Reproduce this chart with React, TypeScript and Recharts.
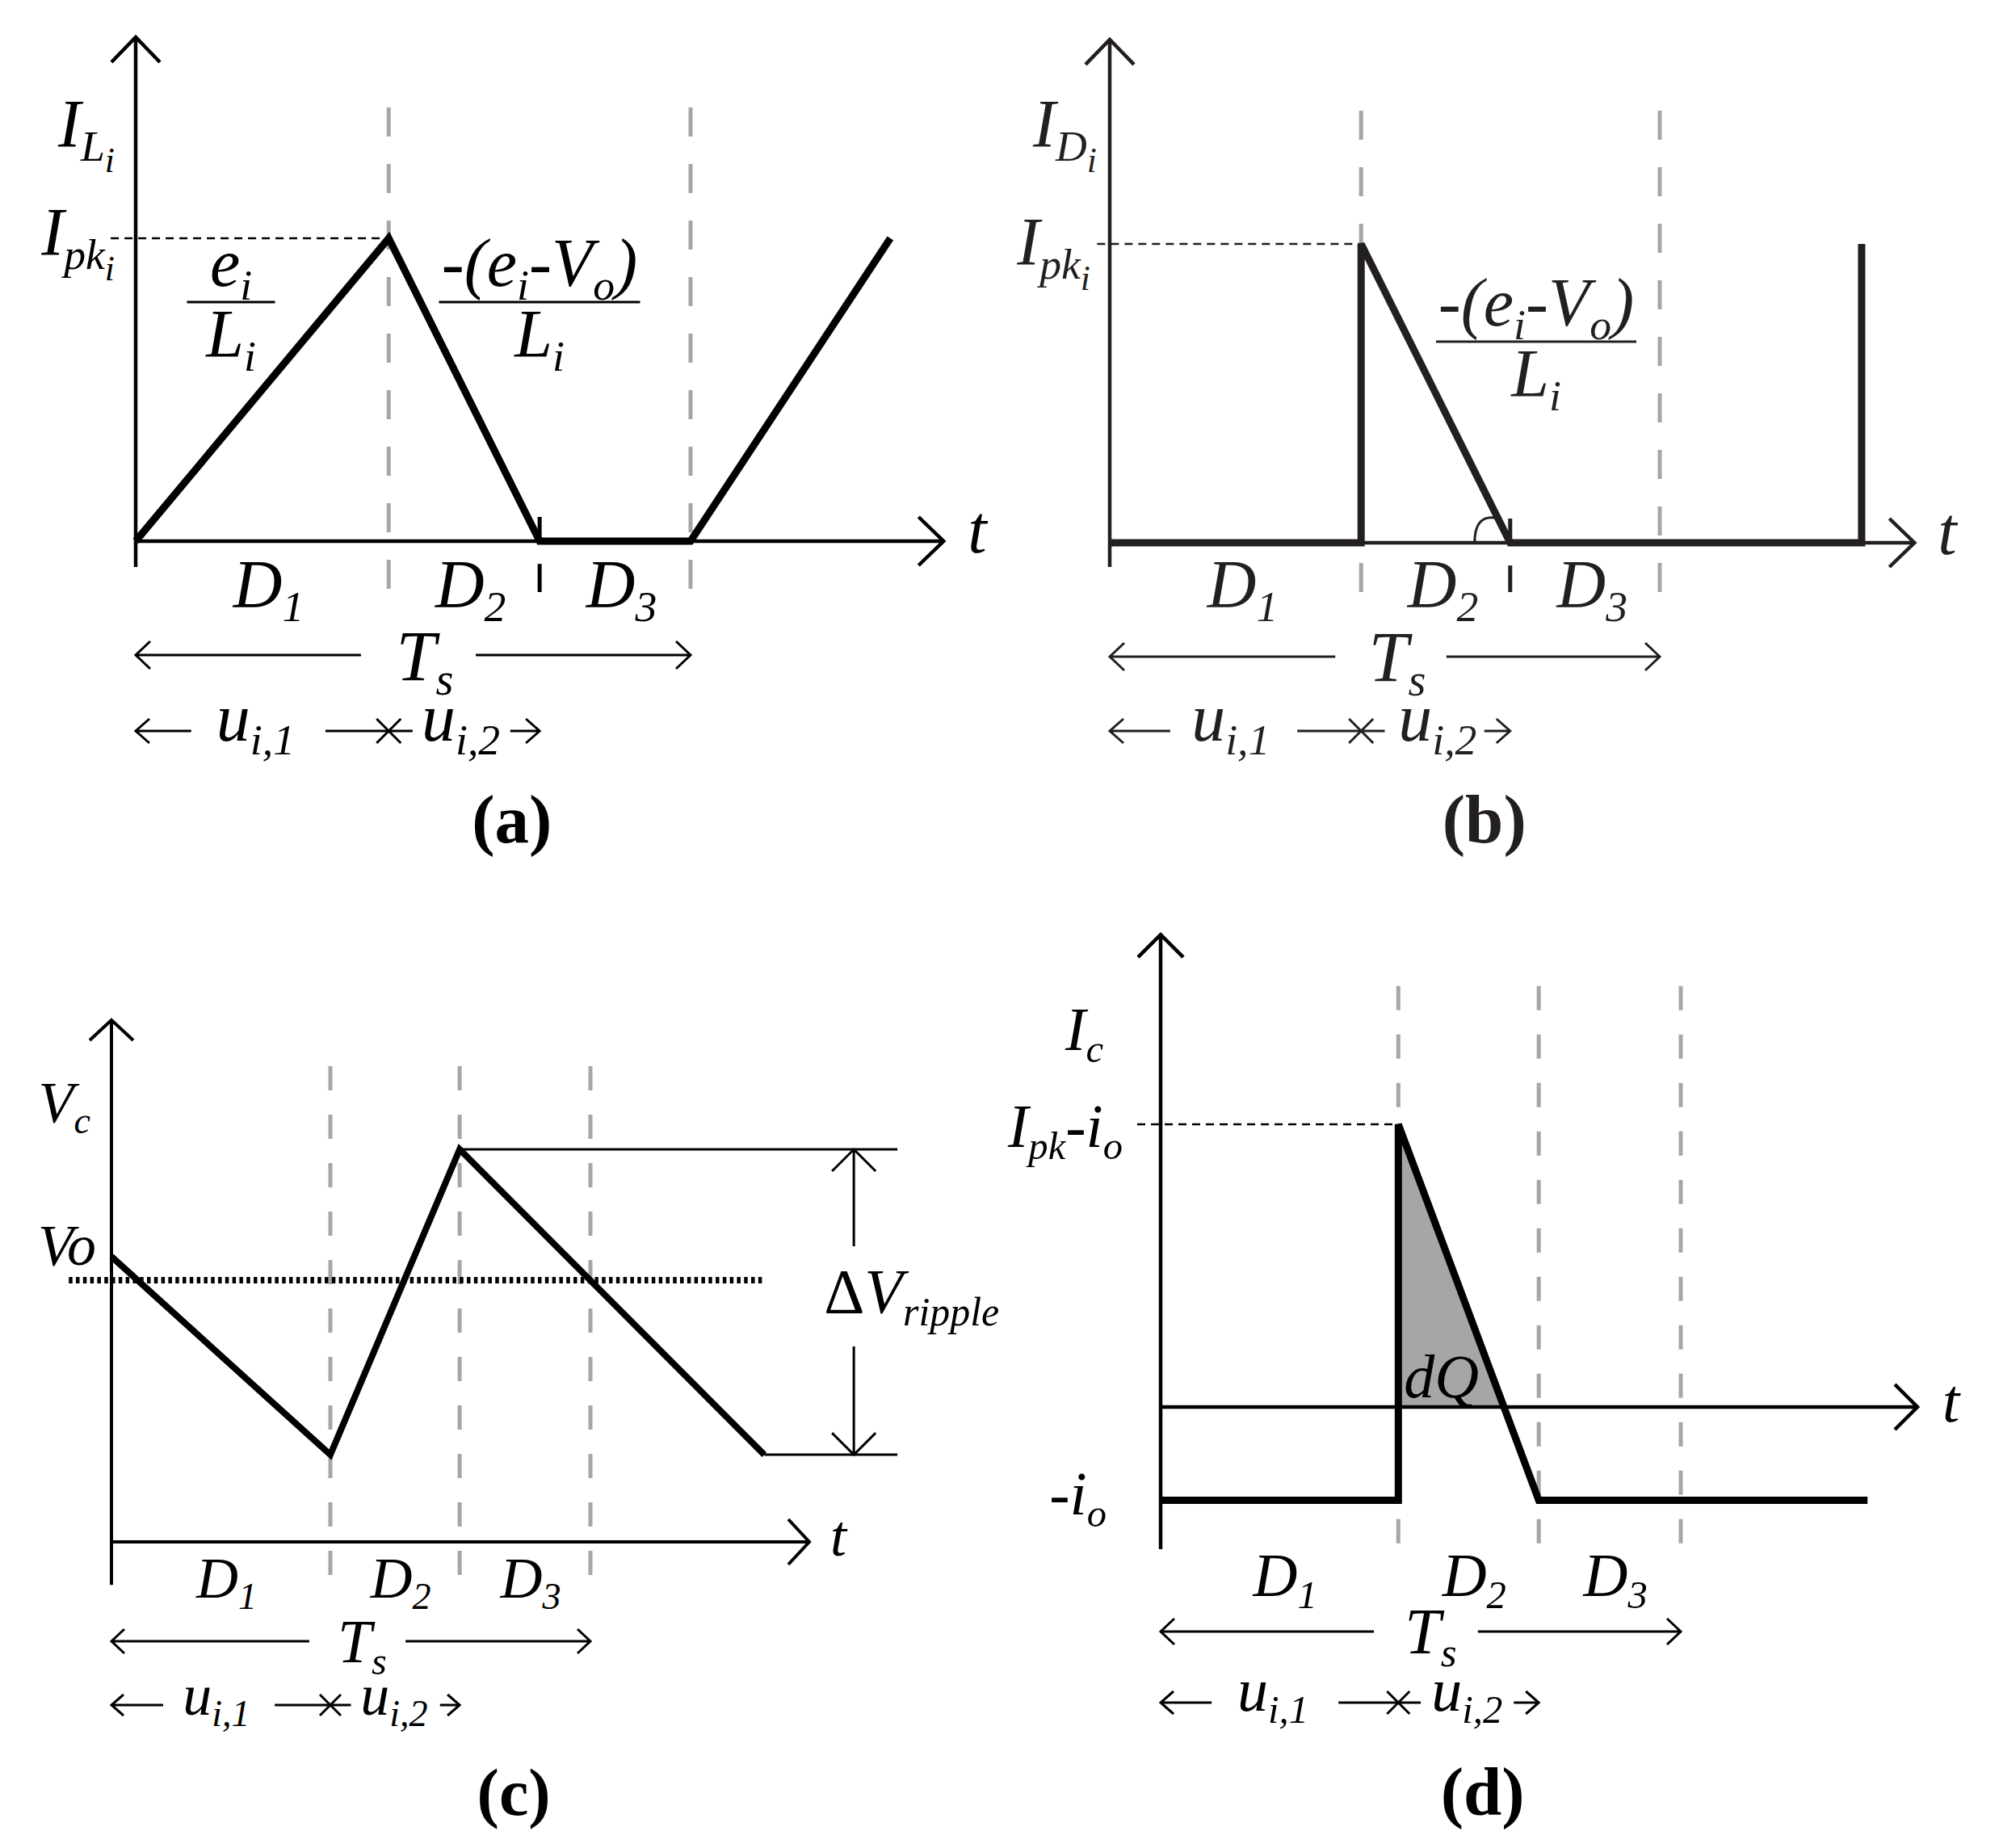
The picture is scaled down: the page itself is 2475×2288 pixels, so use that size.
import React from 'react';
import { ComposedChart, Line, Area, XAxis, YAxis, ReferenceLine, ReferenceDot } from 'recharts';

const FONT = '"Liberation Serif", "DejaVu Serif", serif';
const INK = '#000';
const INK_B = '#231f20';
const GRID = '#a6a6a6';
const SHADE = '#a6a6a6';

// time is in units of Ts, edges = [0, D1, D1+D2, Ts]
// (a) inductor current, in units of Ipk
const aEdges = [0, 0.456, 0.728, 1];
const aTime = [0, 0.456, 0.728, 1, 1.36];
const aCurrent = [0, 1, 0, 0, 1];

// (b) diode current, in units of Ipk
const bEdges = [0, 0.457, 0.728, 1];
const bTime = [0, 0.457, 0.457, 0.728, 1.367, 1.367];
const bCurrent = [0, 0, 1, 0, 0, 1];

// (c) capacitor voltage, in units of Vo
const cEdges = [0, 0.457, 0.727, 1];
const cTime = [0, 0.457, 0.727, 1.363];
const cVoltage = [1.09, 0.333, 1.5, 0.333];
const cVo = 1;
const cRippleTop = 1.5;
const cRippleBottom = 0.333;

// (d) capacitor current, in units of Ipk - io
const dEdges = [0, 0.457, 0.727, 1];
const dTime = [0, 0.457, 0.457, 0.727, 1.359];
const dCurrent = [-0.33, -0.33, 1, -0.33, -0.33];
const dqTime = [0.457, 0.655];
const dqCurrent = [1, 0];

const intervalNames = ['1', '2', '3'];

const zip = (t: number[], v: number[]) => t.map((x, i) => ({ t: x, v: v[i] }));

type Frame = { left: number; top: number; w: number; h: number; ox: number; oy: number; sx: number; sy: number };

// page position of each panel, its data origin and pixels per unit
const FA: Frame = { left: 0, top: 0, w: 1237, h: 1100, ox: 168, oy: 670, sx: 687, sy: 375 };
const FB: Frame = { left: 1237, top: 0, w: 1238, h: 1100, ox: 1374, oy: 672, sx: 681, sy: 370 };
const FC: Frame = { left: 0, top: 1100, w: 1237, h: 1188, ox: 138, oy: 1909, sx: 593, sy: 324 };
const FD: Frame = { left: 1237, top: 1100, w: 1238, h: 1188, ox: 1437, oy: 1742, sx: 644, sy: 350 };

type Part = [string, number?, boolean?]; // text, level (0 base, 1 sub, 2 subsub), upright
const SUB = [1, 0.64, 0.52];
const SHIFT = [0, 0.2, 0.37];

type TextOpts = {
  size: number;
  dx?: number;
  dy?: number;
  anchor?: 'start' | 'middle' | 'end';
  bold?: boolean;
  upright?: boolean;
  color?: string;
};

const richText = (parts: Part[], o: TextOpts, x: number, y: number) => {
  let prev = 0;
  return (
    <text
      x={x + (o.dx ?? 0)}
      y={y + (o.dy ?? 0)}
      fontSize={o.size}
      fontFamily={FONT}
      textAnchor={o.anchor ?? 'middle'}
      fontWeight={o.bold ? 'bold' : 'normal'}
      fontStyle={o.upright ? 'normal' : 'italic'}
      fill={o.color ?? INK}
    >
      {parts.map(([s, lv = 0, up], i) => {
        const dy = (SHIFT[lv] - SHIFT[prev]) * o.size;
        prev = lv;
        return (
          <tspan key={i} dy={dy} fontSize={o.size * SUB[lv]} fontStyle={up ? 'normal' : undefined}>
            {s}
          </tspan>
        );
      })}
    </text>
  );
};

const textShape = (parts: Part[], o: TextOpts) => (p: any) => richText(parts, o, p.cx, p.cy);

const fractionShape =
  (num: Part[], den: Part[], o: { size: number; dx: number; dy: number; width: number; color?: string }) =>
  (p: any) => {
    const cx = p.cx + o.dx;
    const cy = p.cy + o.dy;
    const color = o.color ?? INK;
    return (
      <g>
        {richText(num, { size: o.size, dy: -20, color }, cx, cy)}
        <line x1={cx - o.width / 2} x2={cx + o.width / 2} y1={cy} y2={cy} stroke={color} strokeWidth={3} />
        {richText(den, { size: o.size, dy: 68, color }, cx, cy)}
      </g>
    );
  };

type LineStyle = {
  w: number;
  color?: string;
  dash?: string;
  dy?: number;
  start?: [number, number];
  end?: [number, number];
};

const lineShape = (s: LineStyle) => (p: any) => {
  const dy = s.dy ?? 0;
  const x1 = +p.x1;
  const y1 = +p.y1 + dy;
  const x2 = +p.x2;
  const y2 = +p.y2 + dy;
  const a = Math.atan2(y2 - y1, x2 - x1);
  const head = (x: number, y: number, ang: number, [len, half]: [number, number]) => {
    const bx = x - len * Math.cos(ang);
    const by = y - len * Math.sin(ang);
    const nx = -Math.sin(ang) * half;
    const ny = Math.cos(ang) * half;
    return `M${bx + nx},${by + ny}L${x},${y}L${bx - nx},${by - ny}`;
  };
  let d = `M${x1},${y1}L${x2},${y2}`;
  if (s.end) d += head(x2, y2, a, s.end);
  if (s.start) d += head(x1, y1, a + Math.PI, s.start);
  return <path d={d} fill="none" stroke={s.color ?? INK} strokeWidth={s.w} strokeDasharray={s.dash} />;
};

const crossShape = (dy: number, half: number, color: string) => (p: any) => {
  const x = p.cx;
  const y = p.cy + dy;
  return (
    <path
      d={`M${x - half},${y - half}L${x + half},${y + half}M${x - half},${y + half}L${x + half},${y - half}`}
      stroke={color}
      strokeWidth={3}
      fill="none"
    />
  );
};

const arcShape = (color: string) => (p: any) => {
  const x = p.cx;
  const y = p.cy;
  return <path d={`M${x - 44},${y}C${x - 44},${y - 38} ${x - 20},${y - 32} ${x - 12},${y - 29}`} stroke={color} strokeWidth={3} fill="none" />;
};

const seg = (key: string, p1: number[], p2: number[], shape: any) => (
  <ReferenceLine
    key={key}
    segment={[
      { x: p1[0], y: p1[1] },
      { x: p2[0], y: p2[1] },
    ]}
    ifOverflow="visible"
    shape={shape}
  />
);

const dot = (key: string, x: number, y: number, shape: any) => (
  <ReferenceDot key={key} x={x} y={y} r={0} ifOverflow="visible" shape={shape} />
);

type Rows = {
  edges: number[];
  size: number;
  color: string;
  dD: number;
  dDx: number;
  ts: number;
  tsGap: [number, number];
  tsText: number;
  tsDx: number;
  u: number;
  uText: number;
  uLeft: number;
  u1: number;
  uMid: [number, number];
  u2: number;
  uRight: number;
  head: [number, number];
  small: [number, number];
  cap: string;
  capX: number;
  capDy: number;
  capSize: number;
};

// D labels, the Ts arrow, the u arrows and the caption under the axis
function bottomRows(k: string, r: Rows) {
  const e = r.edges;
  const c = r.color;
  const out: React.ReactNode[] = [];
  for (let i = 0; i < 3; i++) {
    out.push(
      dot(`${k}D${i}`, (e[i] + e[i + 1]) / 2, 0, textShape([['D'], [intervalNames[i], 1]], { size: r.size, dx: r.dDx, dy: r.dD, color: c }))
    );
  }
  out.push(seg(`${k}ts1`, [0, 0], [r.tsGap[0], 0], lineShape({ w: 3, dy: r.ts, start: r.head, color: c })));
  out.push(seg(`${k}ts2`, [r.tsGap[1], 0], [e[3], 0], lineShape({ w: 3, dy: r.ts, end: r.head, color: c })));
  out.push(
    dot(`${k}tsT`, (r.tsGap[0] + r.tsGap[1]) / 2, 0, textShape([['T'], ['s', 1]], { size: r.size * 1.05, dx: r.tsDx, dy: r.tsText, color: c }))
  );
  out.push(seg(`${k}u1`, [0, 0], [r.uLeft, 0], lineShape({ w: 3, dy: r.u, start: r.small, color: c })));
  out.push(dot(`${k}u1t`, r.u1, 0, textShape([['u'], ['i,1', 1]], { size: r.size, dy: r.uText, color: c })));
  out.push(seg(`${k}um`, [r.uMid[0], 0], [r.uMid[1], 0], lineShape({ w: 3, dy: r.u, color: c })));
  out.push(dot(`${k}ux`, e[1], 0, crossShape(r.u, r.small[1], c)));
  out.push(dot(`${k}u2t`, r.u2, 0, textShape([['u'], ['i,2', 1]], { size: r.size, dy: r.uText, color: c })));
  out.push(seg(`${k}u2`, [r.uRight, 0], [e[2], 0], lineShape({ w: 3, dy: r.u, end: r.small, color: c })));
  out.push(
    dot(`${k}cap`, r.capX, 0, textShape([['('], [r.cap], [')']], { size: r.capSize, dy: r.capDy, bold: true, upright: true, color: c }))
  );
  return out;
}

const wave = (key: string, data: { t: number; v: number }[], w: number, color: string) => (
  <Line
    key={key}
    data={data}
    dataKey="v"
    type="linear"
    stroke={color}
    strokeWidth={w}
    dot={false}
    activeDot={false}
    legendType="none"
    isAnimationActive={false}
  />
);

function Chart({ f, children }: { f: Frame; children: React.ReactNode }) {
  const xd = [(f.left - f.ox) / f.sx, (f.left + f.w - f.ox) / f.sx];
  const yd = [(f.oy - f.top - f.h) / f.sy, (f.oy - f.top) / f.sy];
  return (
    <div style={{ position: 'absolute', left: f.left, top: f.top, width: f.w, height: f.h }}>
      <ComposedChart width={f.w} height={f.h} margin={{ top: 0, right: 0, bottom: 0, left: 0 }}>
        <XAxis type="number" dataKey="t" domain={xd} hide allowDataOverflow />
        <YAxis type="number" dataKey="v" domain={yd} hide allowDataOverflow />
        {children}
      </ComposedChart>
    </div>
  );
}

function PanelA() {
  const e = aEdges;
  const s = 84;
  const items = [
    ...[e[1], e[3]].map((x) => seg(`g${x}`, [x, 1.432], [x, -0.168], lineShape({ w: 5, color: GRID, dash: '36 34' }))),
    seg('yax', [0, -0.085], [0, 1.664], lineShape({ w: 4.5, end: [31, 30] })),
    seg('xax', [0, 0], [1.456, 0], lineShape({ w: 4.5, end: [31, 30] })),
    seg('pk', [-0.045, 1], [e[1], 1], lineShape({ w: 2.5, dash: '10 7' })),
    seg('tk1', [e[2], 0.08], [e[2], 0], lineShape({ w: 5 })),
    seg('tk2', [e[2], -0.075], [e[2], -0.168], lineShape({ w: 5 })),
    wave('w', zip(aTime, aCurrent), 9, INK),
    dot('lI', 0, 1, textShape([['I'], ['L', 1], ['i', 2]], { size: s, dx: -26, dy: -113, anchor: 'end' })),
    dot('lpk', 0, 1, textShape([['I'], ['pk', 1], ['i', 2]], { size: s, dx: -26, dy: 21, anchor: 'end' })),
    dot('f1', 0, 1, fractionShape([['e'], ['i', 1]], [['L'], ['i', 1]], { size: s, dx: 118, dy: 79, width: 109 })),
    dot(
      'f2',
      0,
      1,
      fractionShape([['-(e'], ['i', 1], ['-V'], ['o', 1], [')']], [['L'], ['i', 1]], { size: s, dx: 500, dy: 79, width: 249 })
    ),
    dot('lt', 1.456, 0, textShape([['t']], { size: s, dx: 30, dy: 14, anchor: 'start' })),
    ...bottomRows('a', {
      edges: e,
      size: s,
      color: INK,
      dD: 82,
      dDx: 8,
      ts: 141,
      tsGap: [0.406, 0.613],
      tsText: 172,
      tsDx: 8,
      u: 235,
      uText: 247,
      uLeft: 0.1,
      u1: 0.216,
      uMid: [0.342, 0.499],
      u2: 0.586,
      uRight: 0.675,
      head: [18, 17],
      small: [17, 15],
      cap: 'a',
      capX: 0.678,
      capDy: 373,
      capSize: 85,
    }),
  ];
  return <Chart f={FA}>{items}</Chart>;
}

function PanelB() {
  const e = bEdges;
  const s = 84;
  const items = [
    ...[e[1], e[3]].map((x) => seg(`g${x}`, [x, 1.446], [x, -0.165], lineShape({ w: 5, color: GRID, dash: '36 34' }))),
    seg('yax', [0, -0.081], [0, 1.684], lineShape({ w: 4.5, end: [31, 30], color: INK_B })),
    seg('xax', [0, 0], [1.463, 0], lineShape({ w: 4.5, end: [31, 30], color: INK_B })),
    seg('pk', [-0.023, 1], [e[1], 1], lineShape({ w: 2.5, dash: '10 7', color: INK_B })),
    seg('tk1', [e[2], 0.081], [e[2], 0], lineShape({ w: 5, color: INK_B })),
    seg('tk2', [e[2], -0.076], [e[2], -0.165], lineShape({ w: 5, color: INK_B })),
    dot('arc', e[2], 0, arcShape(INK_B)),
    wave('w', zip(bTime, bCurrent), 9, INK_B),
    dot('lI', 0, 1, textShape([['I'], ['D', 1], ['i', 2]], { size: s, dx: -16, dy: -120, anchor: 'end', color: INK_B })),
    dot('lpk', 0, 1, textShape([['I'], ['pk', 1], ['i', 2]], { size: s, dx: -24, dy: 26, anchor: 'end', color: INK_B })),
    dot(
      'f2',
      0,
      1,
      fractionShape([['-(e'], ['i', 1], ['-V'], ['o', 1], [')']], [['L'], ['i', 1]], {
        size: s,
        dx: 528,
        dy: 121,
        width: 248,
        color: INK_B,
      })
    ),
    dot('lt', 1.463, 0, textShape([['t']], { size: s, dx: 29, dy: 14, anchor: 'start', color: INK_B })),
    ...bottomRows('b', {
      edges: e,
      size: s,
      color: INK_B,
      dD: 80,
      dDx: 9,
      ts: 141,
      tsGap: [0.41, 0.612],
      tsText: 171,
      tsDx: 8,
      u: 233,
      uText: 245,
      uLeft: 0.11,
      u1: 0.22,
      uMid: [0.341, 0.5],
      u2: 0.596,
      uRight: 0.681,
      head: [18, 17],
      small: [17, 15],
      cap: 'b',
      capX: 0.681,
      capDy: 371,
      capSize: 85,
    }),
  ];
  return <Chart f={FB}>{items}</Chart>;
}

function PanelC() {
  const e = cEdges;
  const s = 72;
  const items = [
    ...[e[1], e[2], e[3]].map((x) => seg(`g${x}`, [x, 1.818], [x, -0.17], lineShape({ w: 5, color: GRID, dash: '30 30' }))),
    seg('yax', [0, -0.164], [0, 1.994], lineShape({ w: 4, end: [25, 27] })),
    seg('xax', [0, 0], [1.457, 0], lineShape({ w: 4, end: [26, 28] })),
    seg('vo', [-0.089, cVo], [1.361, cVo], lineShape({ w: 8, dash: '4.5 4.3' })),
    seg('rt', [e[2], cRippleTop], [1.641, cRippleTop], lineShape({ w: 3 })),
    seg('rb', [1.363, cRippleBottom], [1.641, cRippleBottom], lineShape({ w: 3 })),
    seg('ra1', [1.55, 1.13], [1.55, cRippleTop], lineShape({ w: 3, end: [27, 27] })),
    seg('ra2', [1.55, 0.747], [1.55, cRippleBottom], lineShape({ w: 3, end: [27, 27] })),
    wave('w', zip(cTime, cVoltage), 8, INK),
    dot('lV', 0, cVo, textShape([['V'], ['c', 1]], { size: s, dx: -26, dy: -196, anchor: 'end' })),
    dot('lVo', 0, cVo, textShape([['Vo']], { size: s, dx: -19, dy: -19, anchor: 'end' })),
    dot('lt', 1.457, 0, textShape([['t']], { size: s, dx: 26, dy: 17, anchor: 'start' })),
    dot(
      'lr',
      1.55,
      (cRippleTop + cRippleBottom) / 2,
      textShape([['Δ', 0, true], ['V'], ['ripple', 1]], { size: 78, dx: -37, dy: 13, anchor: 'start' })
    ),
    ...bottomRows('c', {
      edges: e,
      size: s,
      color: INK,
      dD: 69,
      dDx: 7,
      ts: 123,
      tsGap: [0.413, 0.614],
      tsText: 149,
      tsDx: 6,
      u: 202,
      uText: 214,
      uLeft: 0.108,
      u1: 0.219,
      uMid: [0.341, 0.5],
      u2: 0.59,
      uRight: 0.686,
      head: [16, 15],
      small: [15, 13],
      cap: 'c',
      capX: 0.84,
      capDy: 338,
      capSize: 82,
    }),
  ];
  return <Chart f={FC}>{items}</Chart>;
}

function PanelD() {
  const e = dEdges;
  const s = 76;
  const items = [
    ...[e[1], e[2], e[3]].map((x) => seg(`g${x}`, [x, 1.489], [x, -0.503], lineShape({ w: 5, color: GRID, dash: '30 30' }))),
    <Area
      key="dq"
      data={zip(dqTime, dqCurrent)}
      dataKey="v"
      type="linear"
      baseValue={0}
      fill={SHADE}
      fillOpacity={1}
      stroke="none"
      legendType="none"
      isAnimationActive={false}
    />,
    seg('yax', [0, -0.503], [0, 1.671], lineShape({ w: 4.5, end: [28, 28] })),
    seg('xax', [0, 0], [1.455, 0], lineShape({ w: 4.5, end: [28, 28] })),
    seg('pk', [-0.045, 1], [e[1], 1], lineShape({ w: 2.5, dash: '10 7' })),
    wave('w', zip(dTime, dCurrent), 9, INK),
    dot('lI', 0, 1, textShape([['I'], ['c', 1]], { size: s, dx: -71, dy: -92, anchor: 'end' })),
    dot('lpk', 0, 1, textShape([['I'], ['pk', 1], ['-i'], ['o', 1]], { size: s, dx: -47, dy: 28, anchor: 'end' })),
    dot('lio', 0, dCurrent[0], textShape([['-i'], ['o', 1]], { size: s, dx: -67, dy: 17, anchor: 'end' })),
    dot('ldq', e[1], 0, textShape([['dQ']], { size: s, dx: 7, dy: -12, anchor: 'start' })),
    dot('lt', 1.455, 0, textShape([['t']], { size: s, dx: 31, dy: 18, anchor: 'start' })),
    ...bottomRows('d', {
      edges: e,
      size: s,
      color: INK,
      dD: 234,
      dDx: 7,
      ts: 278,
      tsGap: [0.41, 0.61],
      tsText: 305,
      tsDx: 6,
      u: 366,
      uText: 376,
      uLeft: 0.098,
      u1: 0.216,
      uMid: [0.342, 0.5],
      u2: 0.589,
      uRight: 0.679,
      head: [17, 16],
      small: [16, 14],
      cap: 'd',
      capX: 0.619,
      capDy: 505,
      capSize: 85,
    }),
  ];
  return <Chart f={FD}>{items}</Chart>;
}

export default function App() {
  return (
    <div style={{ position: 'absolute', left: 0, top: 0, width: 2475, height: 2288, background: '#fff' }}>
      <PanelA />
      <PanelB />
      <PanelC />
      <PanelD />
    </div>
  );
}
